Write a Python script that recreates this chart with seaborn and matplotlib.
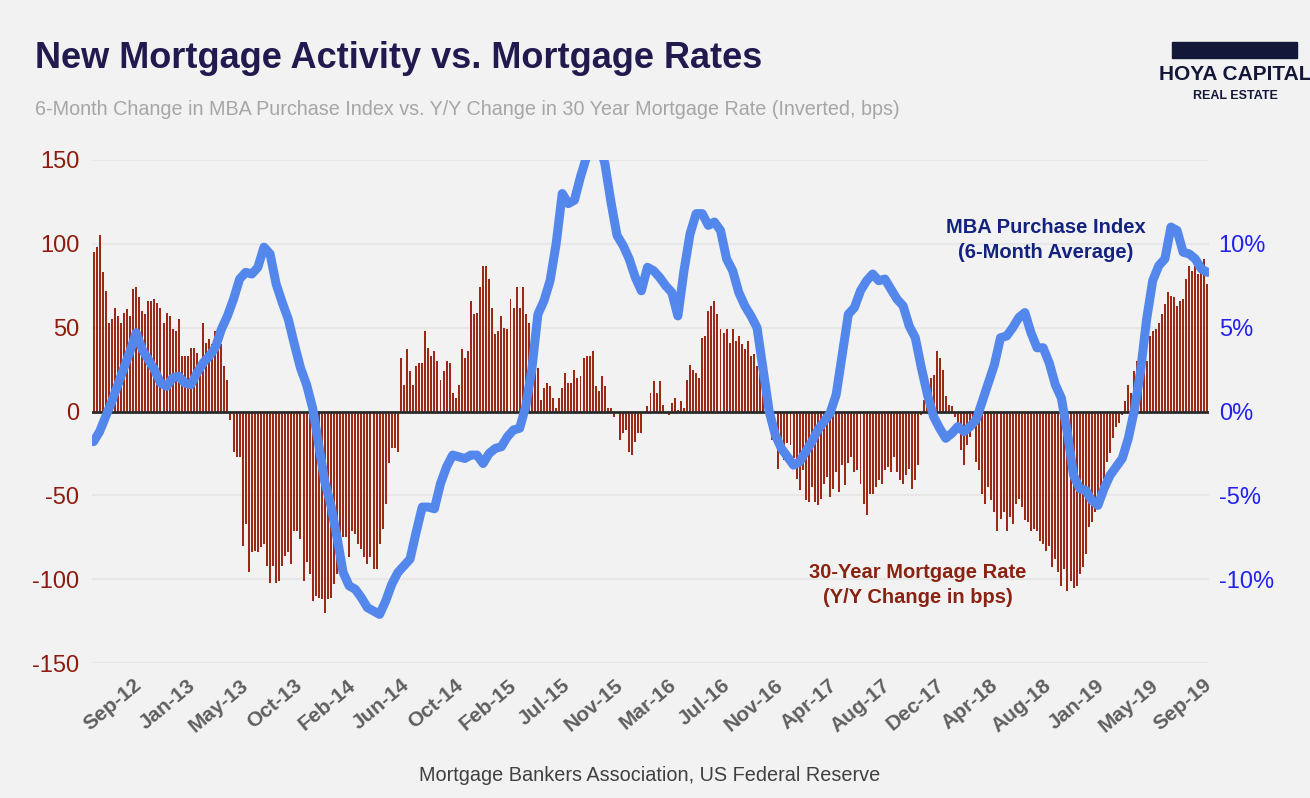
import numpy as np
import matplotlib
matplotlib.use("Agg")
import matplotlib.pyplot as plt
import seaborn as sns
from matplotlib.patches import Rectangle

# 30-year mortgage rate, Y/Y change in bps (inverted), one bar per week Sep-12 .. Sep-19
rate_chg_bps = [
    95, 98, 105, 83, 72, 53, 55, 62, 57, 53,
    59, 61, 57, 73, 74, 68, 60, 58, 66, 66,
    67, 65, 62, 53, 59, 57, 49, 48, 55, 33,
    33, 33, 38, 38, 35, 28, 53, 41, 43, 40,
    48, 47, 40, 27, 19, -5, -24, -27, -27, -80,
    -67, -96, -84, -83, -84, -81, -79, -92, -102, -92,
    -102, -101, -92, -86, -84, -91, -71, -71, -76, -101,
    -90, -97, -113, -110, -111, -112, -120, -112, -111, -103,
    -97, -92, -75, -75, -87, -71, -73, -79, -82, -87,
    -91,
    -87, -94, -94, -79, -70, -55, -31, -22, -22, -24,
    32, 16, 37, 24, 16, 27, 29, 29, 48, 38,
    33, 36, 30, 19, 24, 30, 29, 11, 8, 16,
    37, 32, 36, 66, 58, 59, 74, 87, 87, 79,
    62, 46, 48, 57, 50, 49, 67, 62, 74, 62,
    74, 58, 53, 44, 30, 26, 7, 14, 17, 15,
    8, 2, 8, 14, 23, 17, 17, 25, 20, 21,
    32, 33, 33, 36, 15, 12, 21, 15, 2, 2,
    -3, -1, -17, -13, -11, -24, -26, -18, -13, -13,
    -1, 3,
    11, 18, 11, 18, 4, -1, -2, 5, 8,
    1, 6, 2, 19, 28, 25, 23, 20, 44, 45,
    60, 63, 66, 58, 49, 47, 49, 41, 49,
    42, 45, 40, 37, 42, 33, 34, 27, 27, 40,
    17, -3, -17, -1, -34, -23, -29, -19, -20, -28,
    -40, -47, -35, -53, -54, -45, -54, -56, -52,
    -43, -39, -51, -46, -36, -48, -32, -44,
    -31, -27, -36, -35, -43, -55, -62, -49,
    -49, -45, -41, -43, -35, -33, -36, -27, -36,
    -41, -43, -38, -34, -46, -41,
    -32, -2, 7, 8, 20, 22, 36, 32, 25, 9, 4, 3,
    -3, -12, -23, -32, -20, -15, -9, -30, -35, -49,
    -55, -45, -53, -60, -71, -64, -60, -71, -63, -67,
    -55, -52, -57, -65, -66, -71, -70, -71, -77, -79,
    -83, -80, -93, -88, -96, -104, -94, -107, -101, -105,
    -104, -97, -93, -85, -69, -66, -60, -55, -50, -40,
    -30, -25, -16, -9, -7, -2, 6, 16, 11, 24,
    30, 28, 32, 30, 45, 48, 49, 53, 58, 64,
    71, 69, 68, 63, 66, 67, 79, 87, 84, 87,
    82, 86, 91, 76,
]

# MBA purchase index, 6-month change in % (one reading every 2 weeks)
mba_chg_pct = [
    -1.8, -1.2, -0.3, 0.6, 1.6, 2.6, 3.6, 4.7, 3.7, 3.1,
    2.5, 1.7, 1.5, 2.0, 2.1, 1.7, 1.6, 2.3, 2.9, 3.3,
    3.8, 4.9, 5.7, 6.7, 7.9, 8.3, 8.2, 8.6, 9.8, 9.4,
    7.6, 6.5, 5.5, 4.0, 2.6, 1.6, 0.2, -2.0, -4.2, -5.6,
    -7.5, -9.6, -10.4, -10.6, -11.1, -11.7,
    -11.9, -12.1, -11.3, -10.3, -9.6, -9.2, -8.8, -7.2, -5.7, -5.7,
    -5.8, -4.3, -3.3, -2.6, -2.7, -2.8, -2.6, -2.6, -3.1, -2.5,
    -2.2, -2.1, -1.5, -1.1, -1.0, 0.3, 2.5, 5.8, 6.6, 7.8,
    10.0, 13.0, 12.4, 12.6, 14.0, 15.2, 16.5, 16.0, 14.8, 12.5,
    10.5, 9.9, 9.1, 8.0, 7.2, 8.6,
    8.4, 8.0, 7.5, 7.1, 5.7, 8.4, 10.6, 11.8, 11.8, 11.1,
    11.3, 10.8, 9.1, 8.4, 7.1, 6.3, 5.7, 5.0, 2.5, 0.0,
    -1.4, -2.2, -2.7, -3.2, -3.0, -2.4, -1.8, -1.1, -0.6, -0.1,
    1.0, 3.4, 5.8, 6.2, 7.2, 7.8, 8.2, 7.8, 7.9, 7.3,
    6.7, 6.3, 5.1, 4.4, 2.6, 1.0, -0.3, -1.0, -1.6, -1.3,
    -0.9, -1.2, -0.9, -0.5, 0.6, 1.7, 2.8, 4.4, 4.5, 5.0,
    5.6, 5.9, 4.7, 3.8, 3.8, 2.9, 1.6, 0.8, -1.3, -3.8,
    -4.6, -4.7, -5.3, -5.6, -4.6, -3.8, -3.3, -2.8, -1.6, 0.1,
    2.4, 5.5, 7.8, 8.7, 9.1, 11.0, 10.8, 9.5, 9.4, 9.1,
    8.5, 8.3,
]

tick_labels = ["Sep-12", "Jan-13", "May-13", "Oct-13", "Feb-14", "Jun-14", "Oct-14",
               "Feb-15", "Jul-15", "Nov-15", "Mar-16", "Jul-16", "Nov-16", "Apr-17",
               "Aug-17", "Dec-17", "Apr-18", "Aug-18", "Jan-19", "May-19", "Sep-19"]
left_ticks = [-150, -100, -50, 0, 50, 100, 150]
right_ticks = [-10, -5, 0, 5, 10]

BG = "#F2F2F2"
BAR = "#9B2915"
LINE = "#5487EC"
NAVY = "#211A4E"

sns.set_style("white")
plt.rcParams["font.family"] = ["Liberation Sans", "DejaVu Sans"]
plt.rcParams["axes.unicode_minus"] = False

weeks = np.arange(len(rate_chg_bps))
line_weeks = np.arange(len(mba_chg_pct)) * 2

W, H = 1310, 798
fig = plt.figure(figsize=(W / 100, H / 100), dpi=100, facecolor=BG)
ax = fig.add_axes([92 / W, 1 - 663 / H, (1209 - 92) / W, (663 - 160) / H])
ax.set_facecolor(BG)

sns.barplot(x=weeks, y=rate_chg_bps, native_scale=True, color=BAR, saturation=1,
            width=0.65, linewidth=0, errorbar=None, ax=ax, zorder=2)
ax.axhline(0, color="#2B2B2B", lw=2, zorder=3)
ax.set_ylim(-150, 150)
ax.set_yticks(left_ticks)
ax.set_yticklabels([str(t) for t in left_ticks])
ax.yaxis.grid(True, color="#E7E7E7", lw=1.5)
ax.set_axisbelow(True)

ax2 = ax.twinx()
sns.lineplot(x=line_weeks, y=mba_chg_pct, ax=ax2, color=LINE, linewidth=6.5,
             solid_joinstyle="round", solid_capstyle="round")
ax2.set_ylim(-15, 15)
ax2.set_yticks(right_ticks)
ax2.set_yticklabels([f"{t}%" for t in right_ticks])

ax.set_xlim(-0.5, len(rate_chg_bps) - 0.5)
ax.set_xticks(np.linspace(13, len(rate_chg_bps) - 2.5, len(tick_labels)))
ax.set_xticklabels(tick_labels, rotation=40, ha="right", rotation_mode="anchor",
                   fontweight="bold")

for a in (ax, ax2):
    a.set_xlabel("")
    a.set_ylabel("")
    for s in a.spines.values():
        s.set_visible(False)

ax.tick_params(axis="y", length=0, pad=9, labelsize=17, labelcolor="#8E1B0E")
ax.tick_params(axis="x", length=0, pad=9, labelsize=15, labelcolor="#5F5F5F")
ax2.tick_params(axis="y", length=0, pad=7, labelsize=17, labelcolor="#2222F0")

# titles and notes
fig.text(35 / W, 1 - 68 / H, "New Mortgage Activity vs. Mortgage Rates", fontsize=26,
         fontweight="bold", color=NAVY, va="baseline")
fig.text(35 / W, 1 - 115 / H,
         "6-Month Change in MBA Purchase Index vs. Y/Y Change in 30 Year Mortgage Rate (Inverted, bps)",
         fontsize=14.2, color="#A6A6A6", va="baseline")
fig.text(650 / W, 1 - 781 / H, "Mortgage Bankers Association, US Federal Reserve",
         fontsize=14.3, color="#404040", ha="center", va="baseline")

fig.text(1046 / W, 1 - 240 / H, "MBA Purchase Index\n(6-Month Average)", fontsize=14.5,
         fontweight="bold", color="#13227F", ha="center", va="center", linespacing=1.45)
fig.text(918 / W, 1 - 585 / H, "30-Year Mortgage Rate\n(Y/Y Change in bps)", fontsize=14.5,
         fontweight="bold", color="#8B2211", ha="center", va="center", linespacing=1.45)

# logo
fig.patches.append(Rectangle((1172 / W, 1 - 58 / H), 125 / W, 16 / H,
                             transform=fig.transFigure, color="#141838"))
fig.text(1235 / W, 1 - 74 / H, "HOYA CAPITAL", fontsize=15, fontweight="bold",
         color="#141838", ha="center", va="center")
fig.text(1235 / W, 1 - 96 / H, "REAL ESTATE", fontsize=9, fontweight="bold",
         color="#141838", ha="center", va="center")

fig.savefig("out.png", dpi=100, facecolor=BG)
